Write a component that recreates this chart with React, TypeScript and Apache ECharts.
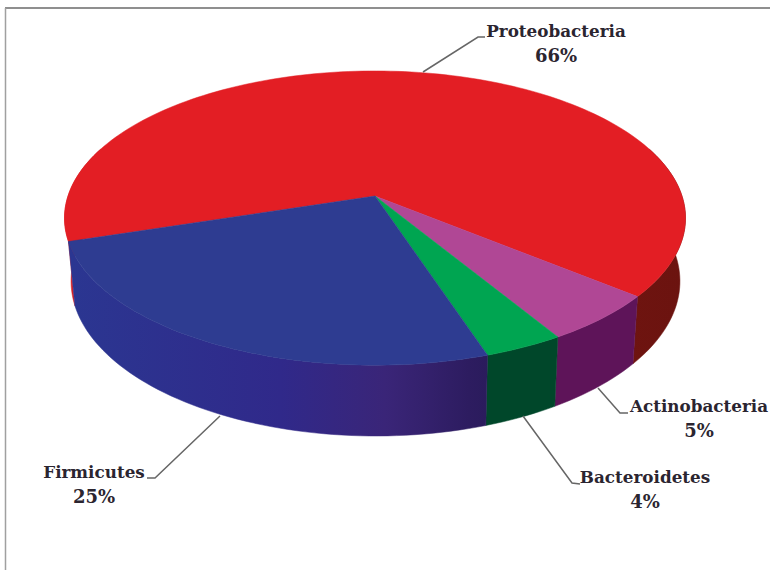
import React, { useEffect, useRef } from "react";
import * as echarts from "echarts";

const categories = ["Proteobacteria", "Actinobacteria", "Bacteroidetes", "Firmicutes"];
// Shares estimated from the drawn slices; the printed labels are these, rounded.
const values = [65.8, 5.4, 3.6, 25.2];

const topColors = ["#e31e24", "#b04795", "#00a551", "#2e3c91"];
const sideStops: [number, string][][] = [
  [[0, "#df1f25"], [0.03, "#cf1f25"], [0.88, "#6f1410"], [1, "#6b130f"]],
  [[0, "#5e1459"], [1, "#5e1459"]],
  [[0, "#00472a"], [1, "#00472a"]],
  [[0, "#2b3691"], [0.5, "#30298a"], [0.75, "#3a2578"], [0.95, "#2d1c60"], [1, "#2a1b5c"]],
];
const sideRange = [
  [60, 690],
  [555, 640],
  [485, 560],
  [72, 490],
];

const START_ANGLE = 162.4;
const TOP = { x0: 375, a: 307, y0: 196, b: 114.4, k: 0.15 };
const BOTTOM = { x0: 375.5, a: 301, y0: 258, b: 112.6, k: 0.15 };

const leaderPaths = [
  [[423, 72], [478, 37], [485, 37]],
  [[598, 388], [620, 413], [628, 413]],
  [[523, 416], [572, 483], [580, 484]],
  [[220, 416], [155, 478], [147, 478]],
];
const labelAnchors = [
  [556, 31],
  [699, 406],
  [645, 477],
  [94, 472],
];

type Plane = typeof TOP;
const project = (p: Plane, deg: number) => {
  const r = (deg * Math.PI) / 180;
  const u = Math.cos(r);
  const v = Math.sin(r);
  const w = 1 - p.k * v;
  return [p.x0 + (p.a * u) / w, (p.y0 + p.b * v) / w];
};
const arc = (p: Plane, from: number, to: number) => {
  const pts: number[][] = [];
  const n = Math.max(2, Math.ceil(Math.abs(to - from) / 1.5));
  for (let i = 0; i <= n; i++) pts.push(project(p, from + ((to - from) * i) / n));
  return pts;
};
// parts of an arc on the viewer's side of the disc
const visibleParts = (from: number, to: number) => {
  const parts: number[][] = [];
  for (const [lo, hi] of [[-20, 200], [340, 560]]) {
    const a = Math.max(from, lo);
    const b = Math.min(to, hi);
    if (b > a) parts.push([a, b]);
  }
  return parts;
};

const total = values.reduce((s, v) => s + v, 0);

const FONT = "'DejaVu Serif', serif";

const renderItem = (params: any, api: any) => {
  const i = params.dataIndex;
  const value = api.value(0);
  const before = values.slice(0, i).reduce((s, v) => s + v, 0);
  const from = START_ANGLE + (before / total) * 360;
  const to = from + (value / total) * 360;
  const fillSide = new echarts.graphic.LinearGradient(
    sideRange[i][0], 0, sideRange[i][1], 0,
    sideStops[i].map(([offset, color]) => ({ offset, color })),
    true
  );
  const children: any[] = visibleParts(from, to).map(([a, b]) => ({
    type: "polygon",
    shape: { points: [...arc(TOP, a, b), ...arc(BOTTOM, b, a)] },
    style: { fill: fillSide, stroke: fillSide, lineWidth: 0.5 },
  }));
  children.push({
    type: "polygon",
    shape: { points: [[TOP.x0, TOP.y0], ...arc(TOP, from, to)] },
    style: { fill: topColors[i], stroke: topColors[i], lineWidth: 0.5 },
  });
  children.push({
    type: "polyline",
    shape: { points: leaderPaths[i] },
    style: { stroke: "#666666", lineWidth: 1.5, fill: "none" },
  });
  children.push({
    type: "text",
    style: {
      text: categories[i],
      x: labelAnchors[i][0],
      y: labelAnchors[i][1],
      textAlign: "center",
      textVerticalAlign: "middle",
      fontFamily: FONT,
      fontWeight: "bold",
      fontSize: 16.8,
      fill: "#2b2530",
    },
  });
  children.push({
    type: "text",
    style: {
      text: `${Math.round(value)}%`,
      x: labelAnchors[i][0],
      y: labelAnchors[i][1] + 24,
      textAlign: "center",
      textVerticalAlign: "middle",
      fontFamily: FONT,
      fontWeight: "bold",
      fontSize: 18,
      fill: "#2b2530",
    },
  });
  return { type: "group", children };
};

export default function App() {
  const ref = useRef<HTMLDivElement>(null);
  useEffect(() => {
    const chart = echarts.init(ref.current!, undefined, { renderer: "svg" });
    chart.setOption({
      animation: false,
      backgroundColor: "#ffffff",
      graphic: [
        { type: "line", shape: { x1: 5, y1: 8, x2: 770, y2: 8 }, style: { stroke: "#8f8f8f", lineWidth: 1.8 } },
        { type: "line", shape: { x1: 5.5, y1: 8, x2: 5.5, y2: 570 }, style: { stroke: "#a0a0a0", lineWidth: 1.5 } },
      ],
      series: [
        {
          type: "custom",
          coordinateSystem: "none",
          renderItem,
          data: categories.map((name, i) => ({ name, value: [values[i]] })),
          silent: true,
        },
      ],
    });
    return () => chart.dispose();
  }, []);
  return <div ref={ref} style={{ position: "fixed", left: 0, top: 0, width: 770, height: 570 }} />;
}
